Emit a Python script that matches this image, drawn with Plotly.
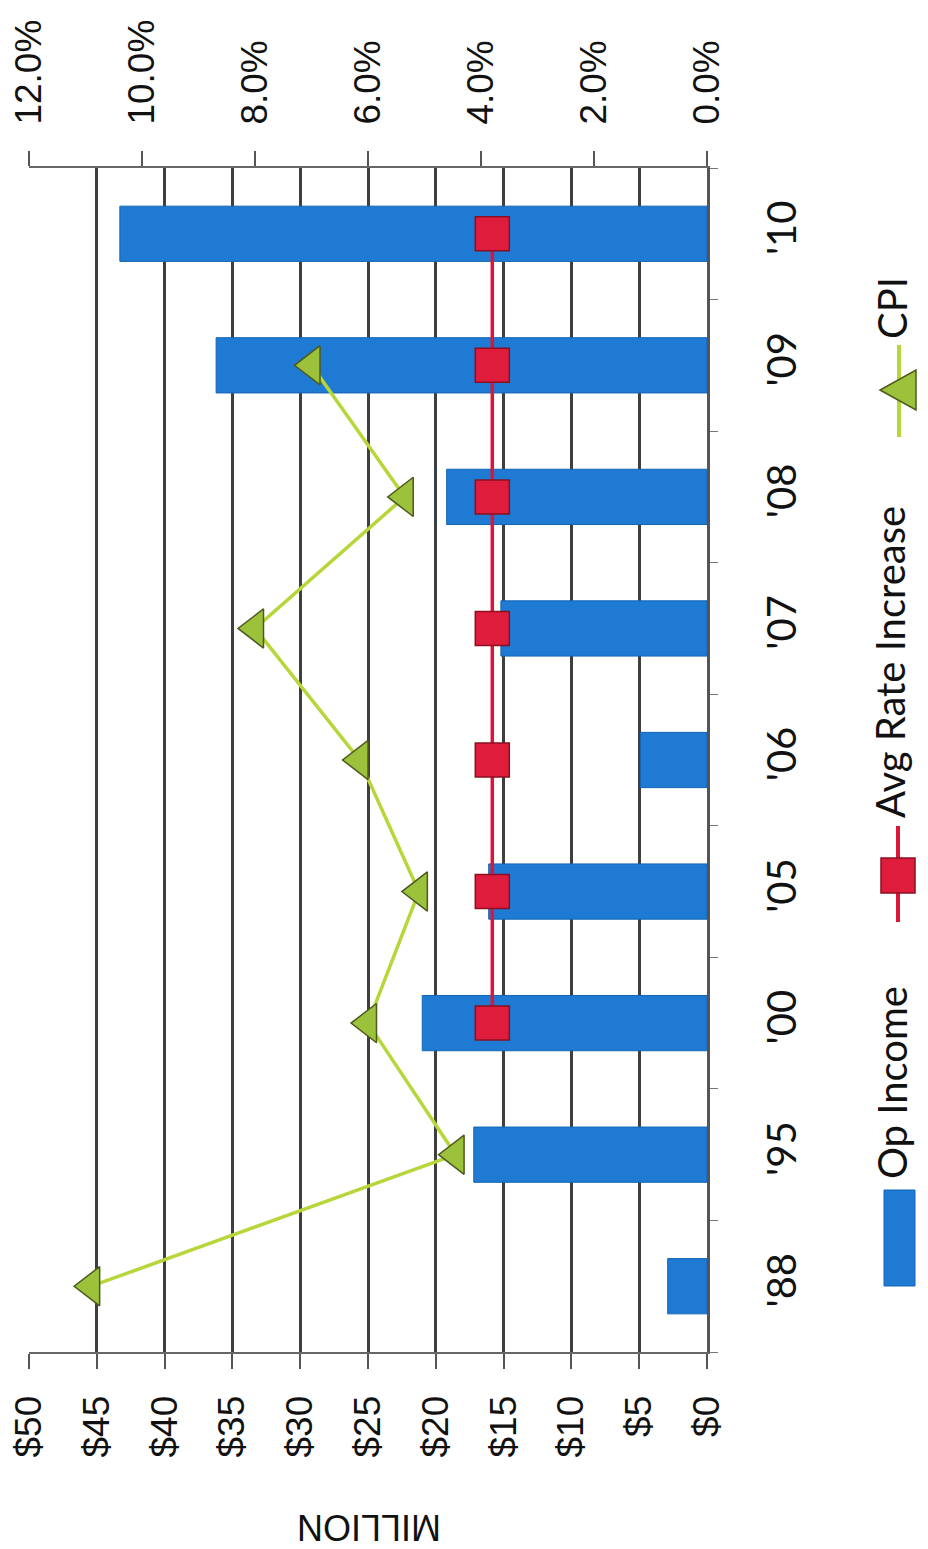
import plotly.graph_objects as go

categories = ["'88", "'95", "'00", "'05", "'06", "'07", "'08", "'09", "'10"]
op_income = [2.9, 17.2, 21.0, 16.1, 4.9, 15.2, 19.2, 36.2, 43.3]
cpi = [10.9, 4.45, 6.0, 5.1, 6.15, 8.0, 5.35, 7.0, None]
avg_rate = [None, None, 3.8, 3.8, 3.8, 3.8, 3.8, 3.8, 3.8]

money_ticks = [0, 5, 10, 15, 20, 25, 30, 35, 40, 45, 50]
pct_ticks = [0, 2, 4, 6, 8, 10, 12]

BLUE = "#1f7ad3"
RED = "#dc1639"
GREEN = "#b7d63a"
GRID = "#3f3f3f"
TICKFONT = dict(family="Liberation Sans, Arial, sans-serif", size=37, color="#111111")
CATFONT = dict(family="Lato, Liberation Sans, sans-serif", size=40, color="#111111")

fig = go.Figure()
fig.add_trace(go.Bar(
    x=op_income, y=categories, orientation="h", name="Op Income",
    marker=dict(color=BLUE, line=dict(color="#1565b5", width=1)),
    width=0.42, xaxis="x", yaxis="y", showlegend=False,
))
fig.add_trace(go.Scatter(
    x=cpi, y=categories, mode="lines+markers", name="CPI",
    line=dict(color=GREEN, width=3.5),
    marker=dict(symbol="triangle-left", size=34, color="#9cc23c",
                line=dict(color="#4d5a1c", width=1.5)),
    xaxis="x2", yaxis="y", showlegend=False, connectgaps=False,
))
fig.add_trace(go.Scatter(
    x=avg_rate, y=categories, mode="lines+markers", name="Avg Rate Increase",
    line=dict(color=RED, width=3.5),
    marker=dict(symbol="square", size=34, color="#e01c3d",
                line=dict(color="#8a0f22", width=1.5)),
    xaxis="x2", yaxis="y", showlegend=False,
))

fig.update_layout(
    width=928, height=1549,
    margin=dict(l=21, r=229, t=160, b=205, autoexpand=False),
    paper_bgcolor="white", plot_bgcolor="white",
    bargap=0.58,
    xaxis=dict(
        range=[50, 0], tickvals=money_ticks, ticktext=[f"${v}" for v in money_ticks],
        tickangle=-90, tickfont=TICKFONT, showgrid=True, gridcolor=GRID, gridwidth=2.5,
        showline=True, linecolor="#666666", linewidth=2,
        ticks="outside", ticklen=15, tickcolor="#555555", tickwidth=2,
        ticklabelstandoff=12, zeroline=False, automargin=False,
        ticklabeloverflow="allow",
    ),
    xaxis2=dict(
        range=[12, 0], overlaying="x", side="top", anchor="y",
        tickvals=pct_ticks, ticktext=[f"{v:.1f}%" for v in pct_ticks],
        tickangle=-90, tickfont=TICKFONT, showgrid=False,
        showline=True, linecolor="#666666", linewidth=2,
        ticks="outside", ticklen=15, tickcolor="#555555", tickwidth=2,
        ticklabelstandoff=19, zeroline=False, automargin=False,
        ticklabeloverflow="allow",
    ),
    yaxis=dict(
        categoryorder="array", categoryarray=categories, type="category",
        range=[-0.5, 8.5], side="right", tickangle=-90, tickfont=CATFONT,
        showgrid=False, showline=True, linecolor="#555555", linewidth=3,
        ticks="outside", tickson="boundaries", ticklen=8, tickcolor="#777777",
        ticklabelstandoff=38, zeroline=False, automargin=False,
        ticklabeloverflow="allow",
    ),
)

PLOT_L, PLOT_W = 29, 678

def px2paper_x(px):
    return (px - PLOT_L) / float(PLOT_W)

def px2paper_y(py):
    return (1352 - py) / 1184.0

shapes = []
# Op Income legend swatch
shapes.append(dict(type="rect", xref="paper", yref="paper",
                   x0=px2paper_x(884), x1=px2paper_x(915),
                   y0=px2paper_y(1286), y1=px2paper_y(1190),
                   fillcolor=BLUE, line=dict(color="#1565b5", width=1)))
# Avg Rate legend: line + square
shapes.append(dict(type="line", xref="paper", yref="paper",
                   x0=px2paper_x(898), x1=px2paper_x(898),
                   y0=px2paper_y(922), y1=px2paper_y(826),
                   line=dict(color=RED, width=4)))
shapes.append(dict(type="rect", xref="paper", yref="paper",
                   x0=px2paper_x(881), x1=px2paper_x(915),
                   y0=px2paper_y(893), y1=px2paper_y(858),
                   fillcolor="#e01c3d", line=dict(color="#8a0f22", width=1.5)))
# CPI legend: line + left-pointing triangle
shapes.append(dict(type="line", xref="paper", yref="paper",
                   x0=px2paper_x(899), x1=px2paper_x(899),
                   y0=px2paper_y(437), y1=px2paper_y(345),
                   line=dict(color=GREEN, width=4)))
tx0, tx1 = px2paper_x(880), px2paper_x(916)
ty0, tym, ty1 = px2paper_y(410), px2paper_y(390), px2paper_y(370)
shapes.append(dict(type="path", xref="paper", yref="paper",
                   path=f"M {tx0} {tym} L {tx1} {ty0} L {tx1} {ty1} Z",
                   fillcolor="#9cc23c", line=dict(color="#4d5a1c", width=1.5)))
fig.update_layout(shapes=shapes)

LEGFONT = dict(family="Lato, Liberation Sans, sans-serif", size=40, color="#111111")
annotations = [
    dict(text="Op Income", x=px2paper_x(892), y=px2paper_y(1083), xref="paper", yref="paper",
         textangle=-90, showarrow=False, font=LEGFONT, xanchor="center", yanchor="middle"),
    dict(text="Avg Rate Increase", x=px2paper_x(890), y=px2paper_y(662), xref="paper", yref="paper",
         textangle=-90, showarrow=False, font=LEGFONT, xanchor="center", yanchor="middle"),
    dict(text="CPI", x=px2paper_x(892), y=px2paper_y(308), xref="paper", yref="paper",
         textangle=-90, showarrow=False, font=LEGFONT, xanchor="center", yanchor="middle"),
    dict(text="MILLION", x=px2paper_x(369), y=px2paper_y(1527), xref="paper", yref="paper",
         textangle=180, showarrow=False,
         font=dict(family="Liberation Sans, Arial, sans-serif", size=36, color="#111111"),
         xanchor="center", yanchor="middle"),
]
fig.update_layout(annotations=annotations)

fig.write_html("out.html")
